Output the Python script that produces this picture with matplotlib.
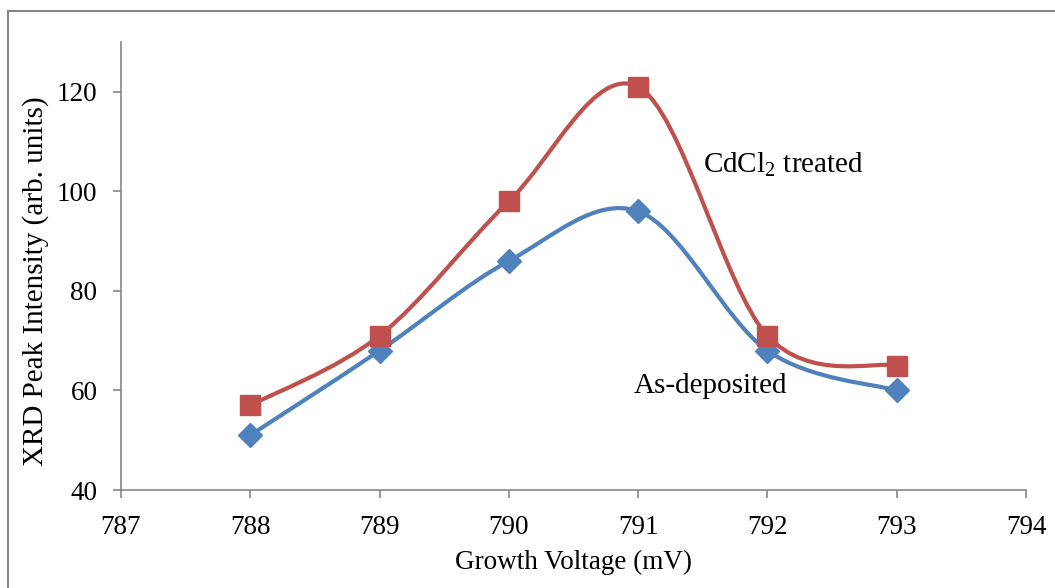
import matplotlib
matplotlib.use('Agg')
import matplotlib.pyplot as plt
from matplotlib.path import Path
from matplotlib.patches import PathPatch
from matplotlib.lines import Line2D
import numpy as np

plt.rcParams['font.family'] = ['Liberation Serif', 'DejaVu Serif']
plt.rcParams['mathtext.fontset'] = 'custom'
plt.rcParams['mathtext.rm'] = 'Liberation Serif'
plt.rcParams['mathtext.it'] = 'Liberation Serif:italic'

voltage = [788, 789, 790, 791, 792, 793]
as_deposited = [51, 68, 86, 96, 68, 60]
cdcl2_treated = [57, 71, 98, 121, 71, 65]

BLUE = '#4F81BD'
RED = '#C0504D'
GRAY = '#868686'


def smooth_path(xs, ys):
    # Excel-style smoothed line: cubic Bezier through each point
    pts = np.column_stack([xs, ys]).astype(float)
    n = len(pts)
    verts = [pts[0]]
    codes = [Path.MOVETO]
    for i in range(n - 1):
        p0 = pts[i - 1] if i > 0 else pts[i]
        p1 = pts[i]
        p2 = pts[i + 1]
        p3 = pts[i + 2] if i + 2 < n else pts[i + 1]
        c1 = p1 + (p2 - p0) / 6
        c2 = p2 - (p3 - p1) / 6
        verts += [c1, c2, p2]
        codes += [Path.CURVE4] * 3
    return Path(verts, codes)


fig = plt.figure(figsize=(10.55, 5.88), dpi=100)
ax = fig.add_axes([121 / 1055, 1 - 490 / 588, (1026 - 121) / 1055, (490 - 42) / 588])

for ys, color, marker, ms in [(as_deposited, BLUE, 'D', 12),
                              (cdcl2_treated, RED, 's', 14)]:
    ax.add_patch(PathPatch(smooth_path(voltage, ys), facecolor='none',
                           edgecolor=color, linewidth=3, zorder=2))
    ax.plot(voltage, ys, linestyle='none', marker=marker, markersize=ms,
            color=color, zorder=3)

ax.set_xlim(787, 794)
ax.set_ylim(40, 130)
ax.set_xticks(range(787, 795))
ax.set_yticks(range(40, 121, 20))

for s in ['top', 'right']:
    ax.spines[s].set_visible(False)
for s in ['left', 'bottom']:
    ax.spines[s].set_color(GRAY)
    ax.spines[s].set_linewidth(1.2)
ax.tick_params(direction='out', length=6, width=1.2, color=GRAY,
               labelsize=19.5)
ax.tick_params(axis='x', pad=12)
ax.tick_params(axis='y', pad=11)

ax.set_xlabel('Growth Voltage (mV)', fontsize=19.5, labelpad=7)
ax.set_ylabel('XRD Peak Intensity (arb. units)', fontsize=21, va='center')
ax.yaxis.set_label_coords((36 - 121) / 905, (490 - 281) / 448)

ax.annotate('CdCl$_2$ treated', xy=(703 / 1055, 1 - 165 / 588),
            xycoords='figure fraction', fontsize=21, va='center', ha='left')
ax.annotate('As-deposited', xy=(634 / 1055, 1 - 386 / 588),
            xycoords='figure fraction', fontsize=21, va='center', ha='left')

# outer chart border (left and top edges visible in the crop)
fig.add_artist(Line2D([8 / 1055, 8 / 1055], [0, 1 - 11 / 588],
                      transform=fig.transFigure, color=GRAY, linewidth=1.5))
fig.add_artist(Line2D([8 / 1055, 1], [1 - 11 / 588, 1 - 11 / 588],
                      transform=fig.transFigure, color=GRAY, linewidth=1.5))

fig.savefig('out.png', dpi=100)
